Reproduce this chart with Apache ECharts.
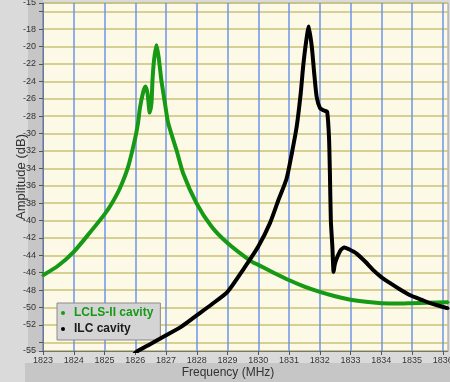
<!DOCTYPE html>
<html>
<head>
<meta charset="utf-8">
<script src="https://cdn.jsdelivr.net/npm/echarts@6/dist/echarts.min.js"></script>
<style>html,body{margin:0;padding:0;background:#dadada;}#c{width:450px;height:382px;}</style>
</head>
<body>
<div id="c"></div>
<script>
// ---- data ----
const seriesNames = ['LCLS-II cavity', 'ILC cavity'];

const lclsFreq = [1823.0, 1823.49, 1824.0, 1824.5, 1825.0, 1825.26, 1825.5, 1825.77, 1826.0, 1826.09,
  1826.15, 1826.26, 1826.33, 1826.40, 1826.47, 1826.53, 1826.56, 1826.61, 1826.69, 1826.76,
  1826.85, 1826.96, 1827.07, 1827.34, 1827.56, 1827.99, 1828.48, 1829.0, 1829.73, 1830.0,
  1830.5, 1831.03, 1831.5, 1832.0, 1832.5, 1833.0, 1833.5, 1834.0, 1834.5, 1835.0, 1835.5, 1836.17];
const lclsAmp = [-46.3, -45.2, -43.6, -41.5, -39.3, -37.9, -36.3, -33.8, -30.5, -28.8,
  -27.1, -25.2, -24.6, -25.4, -27.6, -26.4, -23.9, -21.6, -19.85, -21.2,
  -23.9, -26.4, -28.8, -31.9, -34.6, -38.0, -40.7, -42.6, -44.6, -45.1,
  -46.0, -46.9, -47.6, -48.2, -48.7, -49.1, -49.35, -49.5, -49.55, -49.5, -49.45, -49.4];

const ilcFreq = [1825.9, 1826.04, 1826.44, 1826.9, 1827.5, 1828.0, 1828.5, 1829.0, 1829.5, 1830.0,
  1830.38, 1830.65, 1830.92, 1831.09, 1831.25, 1831.38, 1831.46, 1831.55, 1831.64, 1831.74,
  1831.82, 1831.90, 1832.01, 1832.10, 1832.17, 1832.24, 1832.30, 1832.33, 1832.36, 1832.41,
  1832.45, 1832.49, 1832.57, 1832.68, 1832.80, 1832.95, 1833.20, 1833.5, 1833.74, 1834.0,
  1834.29, 1834.6, 1834.94, 1835.3, 1835.59, 1836.17];
const ilcAmp = [-55.6, -55.1, -54.3, -53.4, -52.2, -50.9, -49.6, -48.2, -45.7, -43.0,
  -40.3, -37.7, -35.2, -32.3, -29.2, -25.4, -22.3, -19.6, -17.7, -20.0,
  -23.1, -25.8, -27.1, -27.3, -27.4, -27.5, -30.4, -34.6, -40.0, -43.0,
  -45.9, -45.0, -44.2, -43.4, -43.1, -43.3, -43.8, -44.8, -45.7, -46.5,
  -47.2, -47.9, -48.6, -49.1, -49.5, -50.1];

const xTicks = [1823, 1824, 1825, 1826, 1827, 1828, 1829, 1830, 1831, 1832, 1833, 1834, 1835, 1836];
const yTicks = [-55, -54, -52, -50, -48, -46, -44, -42, -40, -38, -36, -34, -32, -30, -28, -26, -24, -22, -20, -18, -16, -15];
const yLabels = [-55, -52, -50, -48, -46, -44, -42, -40, -38, -36, -34, -32, -30, -28, -26, -24, -22, -20, -18, -15];
const xRange = [1823, 1836.17];
const yRange = [-55, -15];

// ---- chart ----
const GREEN = '#169a16';
const BLACK = '#000000';
const pairs = (xs, ys) => xs.map((x, i) => [x, ys[i]]);

const chart = echarts.init(document.getElementById('c'), null, {renderer: 'canvas'});
chart.setOption({
  animation: false,
  backgroundColor: '#dadada',
  graphic: [
    {type: 'rect', z: -10, silent: true, shape: {x: 28, y: 0, width: 15, height: 352}, style: {fill: '#c6c6c6'}},
    {type: 'rect', z: -10, silent: true, shape: {x: 25, y: 363, width: 425, height: 19}, style: {fill: '#c6c6c6'}}
  ],
  grid: {
    left: 43, right: 2, top: 3, bottom: 31,
    outerBoundsMode: 'none', containLabel: false,
    show: true, backgroundColor: '#fdf9e7', borderColor: '#9a9a9a', borderWidth: 1
  },
  legend: {
    left: 57, top: 303, orient: 'vertical',
    backgroundColor: '#d4d4d4', borderColor: '#8a8a8a', borderWidth: 1, borderRadius: 0,
    padding: [3, 7, 4, 4], itemGap: 2,
    icon: 'circle', itemWidth: 12, itemHeight: 4,
    textStyle: {fontFamily: 'Liberation Sans', fontSize: 12, fontWeight: 'bold', lineHeight: 14},
    data: [
      {name: seriesNames[0], textStyle: {color: GREEN}},
      {name: seriesNames[1], textStyle: {color: '#1a1a1a'}}
    ]
  },
  xAxis: {
    type: 'value', min: xRange[0], max: xRange[1],
    name: 'Frequency (MHz)', nameLocation: 'middle', nameGap: 16, nameMoveOverlap: false,
    nameTextStyle: {fontFamily: 'Liberation Sans', fontSize: 12, color: '#333', padding: [0, 35, 0, 0]},
    axisLine: {show: true, lineStyle: {color: '#777'}},
    axisTick: {show: true, length: 4, customValues: xTicks, lineStyle: {color: '#555'}},
    axisLabel: {customValues: xTicks, margin: 5, fontFamily: 'Liberation Sans', fontSize: 9, color: '#333',
      formatter: v => String(Math.round(v))},
    splitLine: {show: true, lineStyle: {color: '#6f95e6', width: 1.5}}
  },
  yAxis: {
    type: 'value', min: yRange[0], max: yRange[1],
    name: 'Amplitude (dB)', nameLocation: 'middle', nameGap: 15, nameMoveOverlap: false,
    nameTextStyle: {fontFamily: 'Liberation Sans', fontSize: 13, color: '#333'},
    axisLine: {show: true, lineStyle: {color: '#777'}},
    axisTick: {show: true, length: 4, customValues: yTicks, lineStyle: {color: '#555'}},
    axisLabel: {customValues: yLabels, margin: 7, fontFamily: 'Liberation Sans', fontSize: 9, color: '#333'},
    splitLine: {show: true, lineStyle: {color: '#cbc277', width: 1.5}}
  },
  series: [
    {
      name: seriesNames[0], type: 'line', data: pairs(lclsFreq, lclsAmp), smooth: 0.2,
      color: GREEN, lineStyle: {width: 4, color: GREEN},
      symbol: 'circle', symbolSize: 3, showSymbol: true, itemStyle: {color: GREEN}, z: 3
    },
    {
      name: seriesNames[1], type: 'line', data: pairs(ilcFreq, ilcAmp), smooth: 0.2,
      color: BLACK, lineStyle: {width: 4, color: BLACK},
      symbol: 'circle', symbolSize: 3, showSymbol: true, itemStyle: {color: BLACK}, z: 4
    }
  ]
});
</script>
</body>
</html>
